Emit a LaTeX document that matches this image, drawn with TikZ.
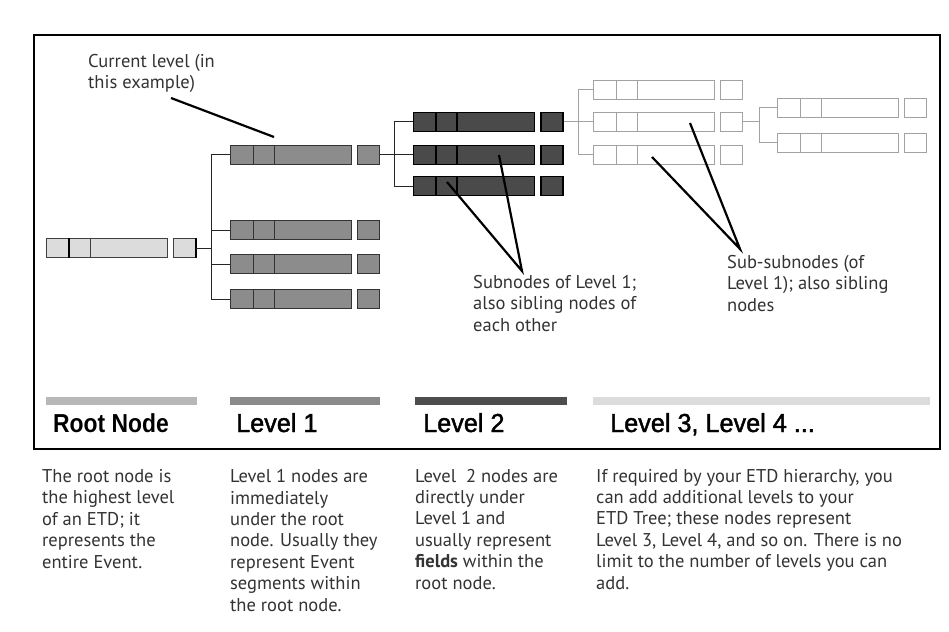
\documentclass[tikz,border=0pt]{standalone}
\usepackage{fontspec}
\setmainfont{PT Sans}
\newfontfamily\headfont[BoldFeatures={FakeStretch=0.88}]{Liberation Sans}
\newfontfamily\levelfont[FakeStretch=0.97, FakeBold=1.6]{Liberation Sans}

\definecolor{rootfill}{HTML}{DCDCDC}
\definecolor{onefill}{HTML}{8C8C8C}
\definecolor{twofill}{HTML}{4A4A4A}
\definecolor{threeline}{HTML}{A2A2A2}
\definecolor{textgray}{HTML}{333333}
\definecolor{bandroot}{HTML}{B8B8B8}
\definecolor{bandone}{HTML}{8A8A8A}
\definecolor{bandtwo}{HTML}{4D4D4D}
\definecolor{bandthree}{HTML}{DCDCDC}

\tikzset{
  lvlroot/.style={draw=black!75, fill=rootfill, line width=0.9pt},
  lvlroot div/.style={draw=black!75, line width=0.9pt},
  lvlone/.style={draw=black!80, fill=onefill, line width=1pt},
  lvlone div/.style={draw=black!80, line width=1pt},
  lvltwo/.style={draw=black, fill=twofill, line width=1.4pt},
  lvltwo div/.style={draw=black, line width=1.4pt},
  lvlthree/.style={draw=threeline, fill=white, line width=1pt},
  lvlthree div/.style={draw=threeline, line width=1pt},
  tree/.style={draw=black!85, line width=1pt},
  tree light/.style={draw=threeline, line width=1pt},
  callout/.style={draw=black, line width=2.2pt},
  note/.style={font=\fontsize{18.5}{21.4}\selectfont, text=textgray, align=left, inner sep=0pt, anchor=base west},
  head/.style={font=\headfont\fontsize{26}{26}\selectfont, inner sep=0pt, anchor=base west},
  levelhead/.style={font=\levelfont\fontsize{26}{26}\selectfont, inner sep=0pt, anchor=base west},
  band/.style={line width=8pt},
}

% one ETD record: three fields and a key box
\newcommand{\etdrow}[4]{%
  \node[#4, anchor=west, minimum width=121pt, minimum height=19pt, inner sep=0pt] (#1) at (#2,#3) {};
  \draw[#4 div] ([xshift=23pt]#1.north west) -- ([xshift=23pt]#1.south west)
    ([xshift=44pt]#1.north west) -- ([xshift=44pt]#1.south west);
  \node[#4, anchor=west, minimum width=22pt, minimum height=19pt, inner sep=0pt] (#1 tail) at ([xshift=5pt]#1.east) {};
}

\begin{document}
\begin{tikzpicture}[x=1pt, y=-1pt]
    \useasboundingbox (0,0) rectangle (949,631);
    \fill[white] (0,0) rectangle (949,631);
    \draw[line width=2.5pt] (34,35) rectangle (940,449);

    \etdrow{root}{46}{248}{lvlroot}
    \draw[line width=2.2pt] ([xshift=23pt]root.north west) -- ([xshift=23pt]root.south west);
    \draw[line width=2.2pt] (root tail.north east) -- (root tail.south east);

    \etdrow{lone1}{230}{155}{lvlone}
    \etdrow{lone2}{230}{230}{lvlone}
    \etdrow{lone3}{230}{264}{lvlone}
    \etdrow{lone4}{230}{299}{lvlone}

    \etdrow{ltwo1}{413}{122}{lvltwo}
    \etdrow{ltwo2}{413}{155}{lvltwo}
    \etdrow{ltwo3}{413}{186}{lvltwo}

    \etdrow{lthree1}{593}{90}{lvlthree}
    \etdrow{lthree2}{593}{122}{lvlthree}
    \etdrow{lthree3}{593}{155}{lvlthree}

    \etdrow{lfour1}{777}{108}{lvlthree}
    \etdrow{lfour2}{777}{143}{lvlthree}

    \draw[tree] (root tail.east) -- ++(16,0) coordinate (rootj);
    \foreach \n in {lone1,lone2,lone3,lone4}
        \draw[tree] (rootj) |- (\n.west);
    \draw[tree] (lone1 tail.east) -- ++(14,0) coordinate (onej);
    \foreach \n in {ltwo1,ltwo2,ltwo3}
        \draw[tree] (onej) |- (\n.west);
    \draw[tree light] (ltwo1 tail.east) -- ++(15,0) coordinate (twoj);
    \foreach \n in {lthree1,lthree2,lthree3}
        \draw[tree light] (twoj) |- (\n.west);
    \draw[tree light] (lthree2 tail.east) -- ++(16,0) coordinate (threej);
    \foreach \n in {lfour1,lfour2}
        \draw[tree light] (threej) |- (\n.west);

    % multi-line notes sit on the baseline of their last line
    \node[note] (curnote) at (88,89) {Current level (in\\this example)};
    \coordinate (cur from) at (171,98);
    \coordinate (cur to) at (274,137);
    \draw[callout] (cur from) -- (cur to);

    \node[note] (subnote) at (473,331) {Subnodes of Level 1;\\also sibling nodes of\\each other};
    \coordinate (sub apex) at (522,271);
    \coordinate (sub a) at (447,182);
    \coordinate (sub b) at (499,155);
    \draw[callout] (sub a) -- (sub apex) -- (sub b);

    \node[note] (subsubnote) at (727,311) {Sub-subnodes (of\\Level 1); also sibling\\nodes};
    \coordinate (subsub apex) at (740,249);
    \coordinate (subsub a) at (652,157);
    \coordinate (subsub b) at (690,123);
    \draw[callout] (subsub a) -- (subsub apex) -- (subsub b);

    \draw[band, bandroot] (46,401) -- (197,401);
    \draw[band, bandone] (230,401) -- (380,401);
    \draw[band, bandtwo] (415,401) -- (567,401);
    \draw[band, bandthree] (593,401) -- (930,401);

    \node[head] (roothead) at (53,432) {\bfseries Root Node};
    \node[levelhead] (onehead) at (236,432) {Level 1};
    \node[levelhead] (twohead) at (423,432) {Level 2};
    \node[levelhead] (threehead) at (610,432) {Level 3, Level 4 ...};

    \node[note] (roottext) at (42,568) {The root node is\\the highest level\\of an ETD; it\\represents the\\entire Event.};
    \node[note] (onetext) at (230,611) {Level 1 nodes are\\immediately\\under the root\\node. Usually they\\represent Event\\segments within\\the root node.};
    \node[note] (twotext) at (415,589) {Level\ \ 2 nodes are\\directly under\\Level 1 and\\usually represent\\\textbf{fields} within the\\root node.};
    \node[note] (threetext) at (596,589) {If required by your ETD hierarchy, you\\can add additional levels to your\\ETD Tree; these nodes represent\\Level 3, Level 4, and so on. There is no\\limit to the number of levels you can\\add.};
\end{tikzpicture}
\end{document}
